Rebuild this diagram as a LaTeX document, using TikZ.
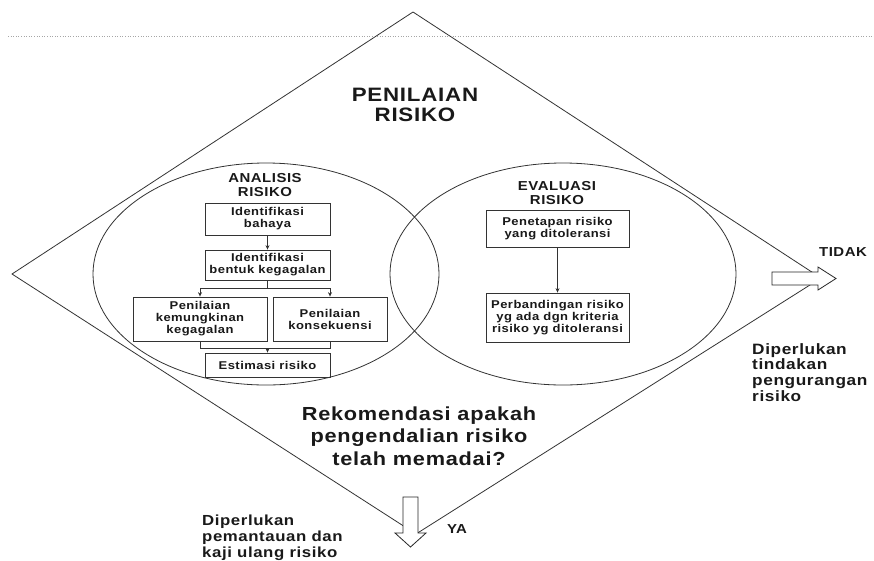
\documentclass[tikz,border=0pt]{standalone}
\usepackage{fontspec}
\setmainfont{Liberation Sans}[FakeStretch=1.15,LetterSpace=4]
\usetikzlibrary{arrows.meta}
\begin{document}
\begin{tikzpicture}[x=1pt,y=-1pt,
  every node/.style={font=\bfseries, inner sep=0pt, text=black!90},
  linecol/.style={draw=black!80, line width=0.8pt},
  boxnode/.style={draw=black!80, line width=0.8pt, align=center, font=\fontsize{11.3}{12}\selectfont\bfseries},
  arr/.style={draw=black!80, line width=0.8pt, -{Stealth[length=4.5pt,width=4pt]}},
  head/.style={align=center, font=\fontsize{13}{14.7}\selectfont\bfseries},
  note/.style={align=left, anchor=north west, font=\fontsize{15}{15.8}\selectfont\bfseries},
  blockarrow/.style={draw=black!85, line width=0.8pt, fill=white}
]
\useasboundingbox (0,0) rectangle (874,560);
\fill[white] (0,0) rectangle (874,560);

% faint dotted line
\coordinate (dl) at (8,36);
\coordinate (dr) at (874,36);
\draw[black!35, dotted, line width=0.6pt] (dl) -- (dr);

% diamond
\coordinate (T) at (413,12);
\coordinate (R) at (821,278);
\coordinate (B) at (416,534);
\coordinate (L) at (12,274);
\draw[linecol] (T) -- (R) -- (B) -- (L) -- cycle;

% ellipses
\draw[linecol] (266,274) ellipse [x radius=173pt, y radius=111pt];
\draw[linecol] (563,274) ellipse [x radius=173pt, y radius=111pt];

% titles
\node[align=center, font=\fontsize{19.4}{20}\selectfont\bfseries] (pen) at (415,105) {PENILAIAN\\RISIKO};
\node[head] (ana) at (265,185) {ANALISIS\\RISIKO};
\node[head] (eva) at (557,193) {EVALUASI\\RISIKO};

% analysis boxes
\node[boxnode, minimum width=125pt, minimum height=32pt] (b1) at (267.5,219) {Identifikasi\\bahaya};
\node[boxnode, minimum width=125pt, minimum height=30pt] (b2) at (267.5,265) {Identifikasi\\bentuk kegagalan};
\node[boxnode, minimum width=134pt, minimum height=44pt] (b3) at (200,319) {Penilaian\\kemungkinan\\kegagalan};
\node[boxnode, minimum width=114pt, minimum height=44pt] (b4) at (330,319) {Penilaian\\konsekuensi};
\node[boxnode, minimum width=125pt, minimum height=24pt] (b5) at (267.5,365) {Estimasi risiko};

\coordinate (j1) at (267.5,288);
\coordinate (j2) at (267.5,348);
\draw[arr] (b1.south) -- (b2.north);
\draw[linecol] (b2.south) -- (j1);
\draw[arr] (j1) -| (b3.north);
\draw[arr] (j1) -| (b4.north);
\draw[linecol] (b3.south) |- (j2);
\draw[linecol] (b4.south) |- (j2);
\draw[arr] (j2) -- (b5.north);

% evaluation boxes
\node[boxnode, minimum width=143pt, minimum height=37pt] (r1) at (557.5,228.5) {Penetapan risiko\\yang ditoleransi};
\node[boxnode, minimum width=143pt, minimum height=49pt] (r2) at (557.5,317.5) {Perbandingan risiko\\yg ada dgn kriteria\\risiko yg ditoleransi};
\draw[arr] (r1.south) -- (r2.north);

% question
\node[align=center, font=\fontsize{18.9}{22.5}\selectfont\bfseries] (q) at (419,436) {Rekomendasi apakah\\pengendalian risiko\\telah memadai?};

% block arrows
\draw[blockarrow] (772,272) -- (818,272) -- (818,267) -- (836,278.5) -- (818,290) -- (818,285) -- (772,285) -- cycle;
\draw[blockarrow] (403,497) -- (418,497) -- (418,533) -- (426,533) -- (410.5,547) -- (395,533) -- (403,533) -- cycle;

% labels
\node[font=\fontsize{13}{14}\selectfont\bfseries] (tidak) at (843,252) {TIDAK};
\node[font=\fontsize{13}{14}\selectfont\bfseries] (ya) at (457,529.5) {YA};
\node[note] (n1) at (752,343) {Diperlukan\\tindakan\\pengurangan\\risiko};
\node[note, font=\fontsize{14.6}{16}\selectfont\bfseries] (n2) at (202,515) {Diperlukan\\pemantauan dan\\kaji ulang risiko};
\end{tikzpicture}
\end{document}
